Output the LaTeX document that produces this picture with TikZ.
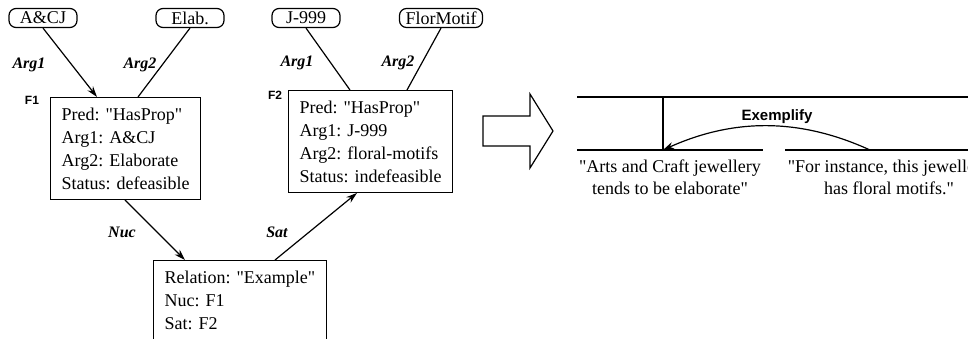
\documentclass[tikz,border=0pt]{standalone}
\usepackage{fontspec}
\setmainfont{Liberation Serif}[Ligatures=TeXOff]
\setsansfont{Liberation Sans}
\usetikzlibrary{arrows.meta}

\begin{document}
\begin{tikzpicture}[x=1pt,y=-1pt,line width=1.2pt,
	ent/.style={draw,rounded corners=7pt,font=\fontsize{18}{20}\selectfont,inner xsep=6pt,inner ysep=1pt,minimum width=68pt,minimum height=19pt},
	fact/.style={draw,anchor=north west,align=left,font=\fontsize{18}{23}\selectfont,inner xsep=11pt,inner ysep=10pt},
	lab/.style={font=\fontsize{16}{18}\selectfont\bfseries\itshape},
	fname/.style={font=\fontsize{12}{13}\selectfont\sffamily\bfseries},
	txt/.style={align=center,font=\fontsize{18}{22}\selectfont},
	arr/.style={-{Stealth[length=11pt,width=7pt]}}]
	\useasboundingbox (0,0) rectangle (968,339);
	% entities
	\node[ent] (acj) at (43,18) {A\&CJ};
	\node[ent] (elab) at (190,18) {Elab.};
	\node[ent] (jnn) at (306,18) {J-999};
	\node[ent] (flor) at (441,18) {FlorMotif};
	% facts
	\node[fact] (f1) at (50,97) {Pred: "HasProp"\\Arg1: A\&CJ\\Arg2: Elaborate\\Status: defeasible};
	\node[fact] (f2) at (288,90) {Pred: "HasProp"\\Arg1: J-999\\Arg2: floral-motifs\\Status: indefeasible};
	\node[fact] (rel) at (153,260) {Relation: "Example"\\Nuc: F1\\Sat: F2};
	\node[fname] (f1name) at (32,100) {F1};
	\node[fname] (f2name) at (275,95) {F2};
	% links
	\draw[arr] (acj.south) -- ([xshift=47pt]f1.north west);
	\draw (elab.south) -- ([xshift=88pt]f1.north west);
	\draw (jnn.south) -- ([xshift=62pt]f2.north west);
	\draw (flor.south) -- ([xshift=119pt]f2.north west);
	\draw[arr] ([xshift=75pt]f1.south west) -- ([xshift=32pt]rel.north west);
	\draw[arr] ([xshift=122pt]rel.north west) -- ([xshift=69pt]f2.south west);
	\node[lab] (l1) at (29,65) {Arg1};
	\node[lab] (l2) at (140,65) {Arg2};
	\node[lab] (l3) at (297,63) {Arg1};
	\node[lab] (l4) at (398,63) {Arg2};
	\node[lab] (lnuc) at (122,232) {Nuc};
	\node[lab] (lsat) at (277,232) {Sat};
	% big arrow
	\draw (483,116) -- (530,116) -- (530,94) -- (553,131) -- (530,168) -- (530,146) -- (483,146) -- cycle;
	% text structure
	\draw (577,97) -- (975,97);
	\draw (663,97) -- (663,150);
	\draw (577,150) -- (763,150);
	\draw (785,150) -- (975,150);
	\coordinate (nuc) at (663,150);
	\coordinate (sat) at (870,150);
	\draw[arr] (sat) .. controls (800,118) and (734,118) .. (nuc);
	\node[font=\fontsize{15}{17}\selectfont\sffamily\bfseries] (exm) at (777,117) {Exemplify};
	\node[txt] (t1) at (670,177) {"Arts and Craft jewellery\\tends to be elaborate"};
	\node[txt] (t2) at (889,177) {"For instance, this jewellery\\has floral motifs."};
\end{tikzpicture}
\end{document}
